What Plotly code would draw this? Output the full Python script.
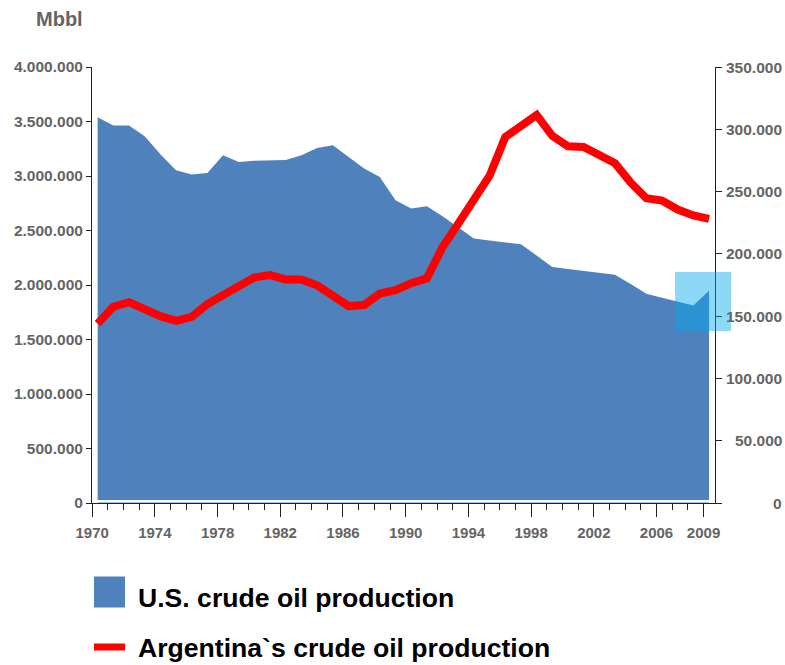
import plotly.graph_objects as go

# ---------------- data ----------------
years = list(range(1970, 2010))

# U.S. crude oil production (Mbbl), left axis
us_production = [
    3540000, 3464000, 3464000, 3364000, 3199000, 3052000, 3013000, 3028000,
    3190000, 3128000, 3141000, 3147000, 3147000, 3190000, 3258000, 3281000,
    3174000, 3068000, 2991000, 2777000, 2701000, 2723000, 2631000, 2531000,
    2426000, 2408000, 2393000, 2374000, 2271000, 2164000, 2146000, 2128000,
    2111000, 2093000, 2010000, 1919000, 1884000, 1848000, 1811000, 1947000,
]

# Argentina's crude oil production (Mbbl), right axis
arg_production = [
    144000, 157600, 161200, 154900, 150000, 146200, 149500, 159700,
    167100, 174600, 181100, 183000, 179400, 179400, 174700, 166500,
    158100, 158900, 168100, 170800, 176500, 180300, 205500, 224100,
    242900, 262700, 293700, 303500, 311500, 294700, 286300, 285800,
    279700, 272800, 257300, 244600, 242800, 235600, 230800, 228100,
]

x_tick_years = [1970, 1974, 1978, 1982, 1986, 1990, 1994, 1998, 2002, 2006, 2009]
left_ticks = [0, 500000, 1000000, 1500000, 2000000, 2500000, 3000000, 3500000, 4000000]
right_ticks = [0, 50000, 100000, 150000, 200000, 250000, 300000, 350000]

legend_labels = ["U.S. crude oil production", "Argentina`s crude oil production"]
unit_label = "Mbbl"

# ---------------- styles ----------------
US_BLUE = "#4F81BD"
ARG_RED = "#FF0000"
GRAY = "#646464"
AXIS = "#222222"
FONT = "Liberation Sans"
TICK_OFFSET = 0.35


def fmt(v):
    return f"{v:,}".replace(",", ".")


fig = go.Figure()

fig.add_trace(go.Scatter(
    x=years, y=us_production, mode="lines", fill="tozeroy",
    fillcolor=US_BLUE, line=dict(width=0, color=US_BLUE),
    name=legend_labels[0], showlegend=False, hoverinfo="x+y",
))

fig.add_trace(go.Scatter(
    x=years, y=arg_production, mode="lines", yaxis="y2",
    line=dict(width=8, color=ARG_RED),
    name=legend_labels[1], showlegend=False, hoverinfo="x+y",
))

xtickfont = dict(family=FONT, size=15, color=GRAY, weight="bold")
ytickfont = dict(family=FONT, size=15.5, color=GRAY, weight="bold")

fig.update_layout(
    width=785, height=665, autosize=False,
    margin=dict(l=92, r=70, t=67, b=162, pad=0),
    paper_bgcolor="white", plot_bgcolor="white",
    separators=",.",
    showlegend=False,
    xaxis=dict(
        range=[1969.64, 2009.38],
        tickmode="array",
        tickvals=[y - TICK_OFFSET for y in x_tick_years],
        ticktext=[str(y) for y in x_tick_years],
        ticks="outside", ticklen=13, tickwidth=1, tickcolor=AXIS,
        minor=dict(tickmode="linear", tick0=x_tick_years[0] - TICK_OFFSET, dtick=1,
                   ticks="outside", ticklen=6, tickwidth=1, tickcolor=AXIS),
        showline=True, linecolor=AXIS, linewidth=1,
        showgrid=False, zeroline=False,
        tickfont=xtickfont, ticklabelstandoff=3,
    ),
    yaxis=dict(
        range=[0, 4000000],
        tickmode="array", tickvals=left_ticks,
        ticktext=[fmt(v) for v in left_ticks],
        ticks="outside", ticklen=5, tickwidth=1, tickcolor=AXIS,
        showline=True, linecolor=AXIS, linewidth=1,
        showgrid=False, zeroline=False,
        tickfont=ytickfont,
    ),
    yaxis2=dict(
        range=[0, 350000], overlaying="y", side="right",
        tickmode="array", tickvals=right_ticks,
        ticks="outside", ticklen=6, tickwidth=1, tickcolor=AXIS,
        showticklabels=False,
        showline=True, linecolor=AXIS, linewidth=1,
        showgrid=False, zeroline=False,
    ),
)

annotations = []
# right axis labels (right-aligned)
for v in right_ticks:
    annotations.append(dict(
        xref="paper", yref="y2", x=1.111, y=v, xanchor="right", yanchor="middle",
        text=fmt(v), showarrow=False, font=ytickfont,
    ))
# unit label
annotations.append(dict(
    xref="paper", yref="paper", x=-0.0928, y=1.109, xanchor="left", yanchor="middle",
    text=unit_label, showarrow=False,
    font=dict(family=FONT, size=20, color=GRAY, weight="bold"),
))
# legend texts
legend_font = dict(family=FONT, size=26.6, color="black", weight="bold")
annotations.append(dict(
    xref="paper", yref="paper", x=0.0706, y=-0.2180, xanchor="left", yanchor="middle",
    text=legend_labels[0], showarrow=False, font=legend_font,
))
annotations.append(dict(
    xref="paper", yref="paper", x=0.0706, y=-0.3330, xanchor="left", yanchor="middle",
    text=legend_labels[1], showarrow=False, font=legend_font,
))
fig.update_layout(annotations=annotations)

shapes = [
    # thin white gap between area and the x axis
    dict(type="rect", xref="paper", yref="y", ysizemode="pixel", yanchor=0,
         x0=0, x1=1, y0=0.6, y1=3, fillcolor="white", line=dict(width=0), layer="above"),
    # highlighted selection square at the right end
    dict(type="rect", xref="paper", yref="paper",
         x0=0.9358, x1=1.0257, y0=0.3946, y1=0.5298,
         fillcolor="rgba(0,168,236,0.45)", line=dict(width=0), layer="above"),
    # legend swatches
    dict(type="rect", xref="paper", yref="paper",
         x0=0.0032, x1=0.053, y0=-0.2398, y1=-0.1688,
         fillcolor=US_BLUE, line=dict(width=0)),
    dict(type="line", xref="paper", yref="paper",
         x0=0.0032, x1=0.053, y0=-0.3303, y1=-0.3303,
         line=dict(width=7, color=ARG_RED)),
]
fig.update_layout(shapes=shapes)

fig.write_html(
    "out.html",
    config={"displayModeBar": False},
    post_script="document.body.style.margin='0';document.body.style.padding='0';",
)
